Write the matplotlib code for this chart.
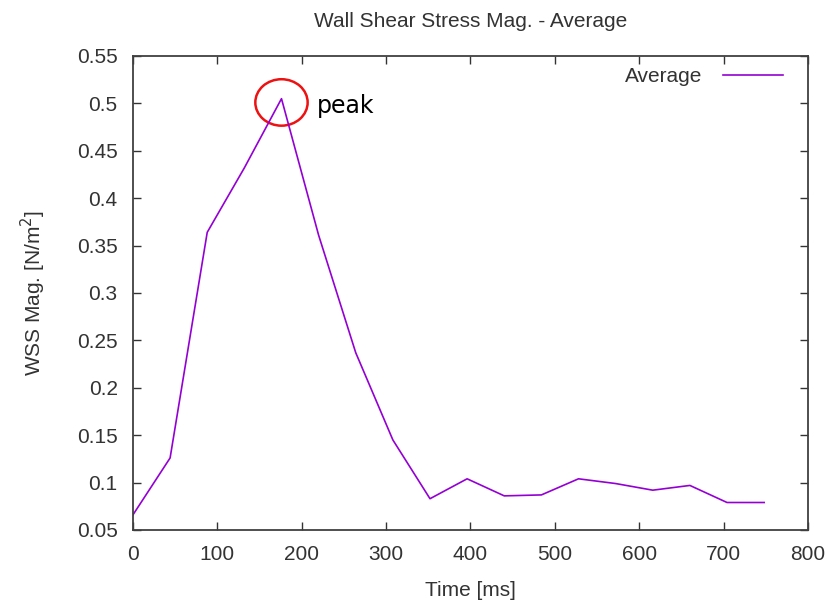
import matplotlib
matplotlib.use("Agg")
import matplotlib.pyplot as plt
from matplotlib.patches import Ellipse
from matplotlib.ticker import FuncFormatter

# time samples [ms] and average WSS magnitude [N/m^2]
time_ms = [0, 44, 88, 132, 176, 220, 264, 308, 352, 396, 440, 484,
           528, 572, 616, 660, 704, 748]
wss_avg = [0.066, 0.126, 0.364, 0.432, 0.505, 0.361, 0.237, 0.145, 0.083,
           0.104, 0.086, 0.087, 0.104, 0.099, 0.092, 0.097, 0.079, 0.079]

peak_t = 176
peak_v = 0.501

xticks = [0, 100, 200, 300, 400, 500, 600, 700, 800]
yticks = [0.05, 0.1, 0.15, 0.2, 0.25, 0.3, 0.35, 0.4, 0.45, 0.5, 0.55]

plt.rcParams['font.family'] = ['Liberation Sans', 'DejaVu Sans']
txt = '#333333'
fs = 15

fig = plt.figure(figsize=(8.29, 6.08), dpi=100)
ax = fig.add_axes([0.1604, 0.1283, 0.8143, 0.7796])

ax.plot(time_ms, wss_avg, color='#9400D3', lw=1.2, label='Average')

ax.set_xlim(0, 800)
ax.set_ylim(0.05, 0.55)
ax.set_xticks(xticks)
ax.set_yticks(yticks)
ax.yaxis.set_major_formatter(FuncFormatter(lambda v, p: '%g' % v))
ax.tick_params(direction='in', length=6, width=1, top=True, right=True,
               labelsize=fs, labelcolor=txt, color='#333333')
ax.tick_params(axis='x', pad=11)
ax.tick_params(axis='y', pad=11)
for s in ax.spines.values():
    s.set_color('#404040')
    s.set_linewidth(1.3)

ax.set_title('Wall Shear Stress Mag. - Average', fontsize=fs, color=txt, pad=21)
ax.set_xlabel('Time [ms]', fontsize=fs, color=txt, labelpad=12)
ax.set_ylabel('WSS Mag. [N/m$^2$]', fontsize=fs, color=txt, labelpad=21)

leg = ax.legend(loc='upper right', bbox_to_anchor=(0.991, 1.016), frameon=False,
                markerfirst=False, fontsize=fs, handlelength=2.9,
                handletextpad=1.0)
for t in leg.get_texts():
    t.set_color(txt)

# red circle + label around the peak
ax.add_patch(Ellipse((peak_t, peak_v), 62, 0.049, fill=False,
                     edgecolor='#ee1111', lw=1.8, clip_on=False))
ax.text(218, 0.497, 'peak', fontsize=17, family='DejaVu Sans',
        va='center', ha='left', color='black')

fig.savefig('out.png', dpi=100)
